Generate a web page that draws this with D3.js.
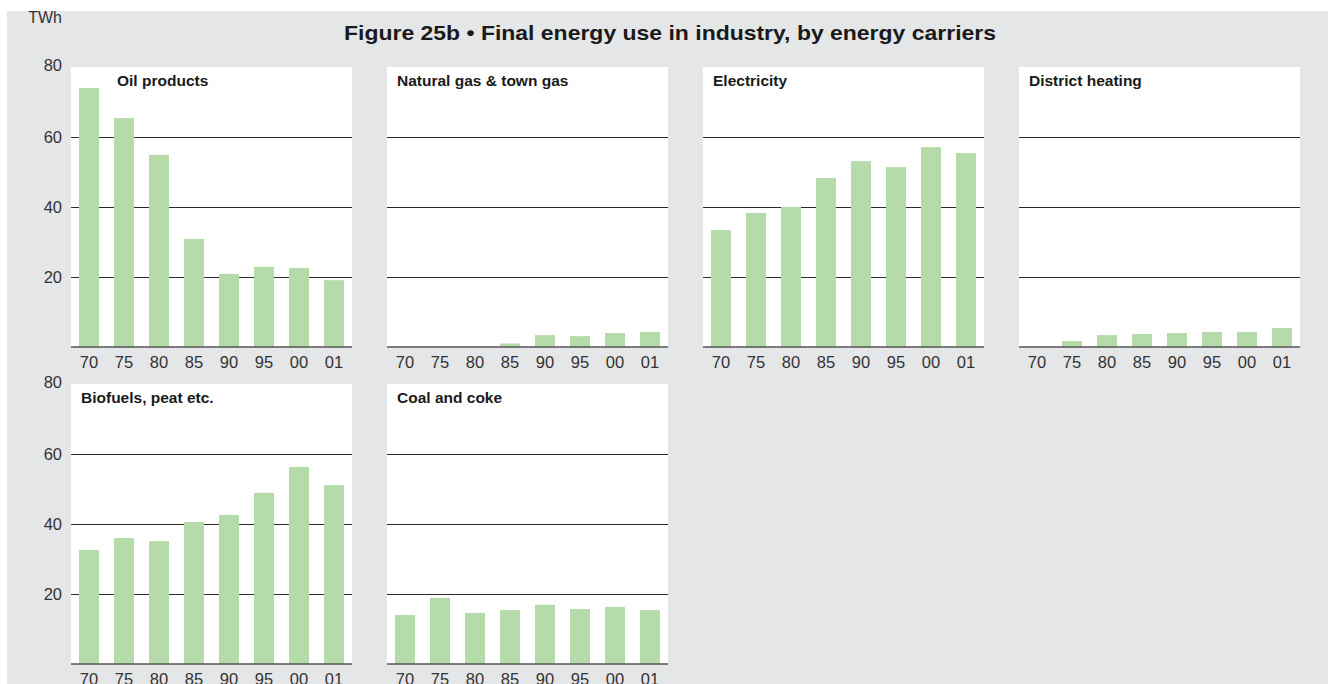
<!DOCTYPE html>
<html>
<head>
<meta charset="utf-8">
<script src="https://cdn.jsdelivr.net/npm/d3@7"></script>
<style>
  html, body { margin: 0; padding: 0; background: #ffffff; }
  svg { display: block; }
</style>
</head>
<body>
<svg id="chart" width="1328" height="684"></svg>
<script>
// ---- data ----
const years = ["70", "75", "80", "85", "90", "95", "00", "01"];
const panelNames = ["Oil products", "Natural gas & town gas", "Electricity", "District heating", "Biofuels, peat etc.", "Coal and coke"];
const oilProducts = [74.0, 65.4, 54.9, 30.9, 20.9, 22.9, 22.6, 19.1];
const naturalGas = [0, 0, 0, 1.0, 3.4, 3.1, 4.0, 4.3];
const electricity = [33.4, 38.3, 40.0, 48.3, 53.1, 51.4, 57.1, 55.4];
const districtHeating = [0, 1.7, 3.4, 3.7, 4.0, 4.3, 4.3, 5.4];
const biofuels = [32.6, 36.0, 35.1, 40.6, 42.6, 48.9, 56.3, 51.1];
const coalCoke = [14.0, 18.9, 14.6, 15.4, 16.9, 15.7, 16.3, 15.4];
const yTicks = [20, 40, 60, 80];
const unitLabel = "TWh";
const titleText = "Figure 25b \u2022 Final energy use in industry, by energy carriers";

const seriesList = [oilProducts, naturalGas, electricity, districtHeating, biofuels, coalCoke];

// ---- layout ----
const svg = d3.select("#chart");
const W = 1328, H = 684;
const panelW = 281, panelH = 280;
const colX = [71, 387, 703, 1019];
const rowY = [67, 384];
const barColor = "#b4dba9";
const bg = "#e5e6e8";
const font = "'Liberation Sans', Arial, Helvetica, sans-serif";

svg.append("rect").attr("x", 7).attr("y", 11).attr("width", W - 7).attr("height", H - 11).attr("fill", bg);

const title = svg.append("text")
  .attr("x", 670).attr("y", 40)
  .attr("text-anchor", "middle")
  .attr("font-family", font).attr("font-weight", "bold")
  .attr("font-size", 20.5).attr("fill", "#1a1a1a")
  .attr("textLength", 652).attr("lengthAdjust", "spacingAndGlyphs")
  .text(titleText);

svg.append("text")
  .attr("x", 62).attr("y", 23)
  .attr("text-anchor", "end")
  .attr("font-family", font).attr("font-size", 16)
  .attr("fill", "#333").text(unitLabel);

const y = d3.scaleLinear().domain([0, 80]).range([panelH, 0]);
const x = d3.scaleBand().domain(years).range([0, panelW]).paddingInner(0.4286).paddingOuter(0.2286);

seriesList.forEach((vals, i) => {
  const row = Math.floor(i / 4), col = i % 4;
  const g = svg.append("g").attr("transform", `translate(${colX[col]},${rowY[row]})`);
  g.append("rect").attr("width", panelW).attr("height", panelH).attr("fill", "#ffffff");

  // gridlines
  g.selectAll("line.grid").data(yTicks.filter(t => t < 80)).enter().append("line")
    .attr("x1", 0).attr("x2", panelW)
    .attr("y1", d => Math.round(y(d)) + 0.5).attr("y2", d => Math.round(y(d)) + 0.5)
    .attr("stroke", "#2b2b2b").attr("stroke-width", 1.1);

  // bars
  g.selectAll("rect.bar").data(vals.map((v, k) => ({ v, yr: years[k] }))).enter().append("rect")
    .attr("x", d => x(d.yr)).attr("width", x.bandwidth())
    .attr("y", d => y(d.v)).attr("height", d => panelH - y(d.v))
    .attr("fill", barColor);

  // baseline
  g.append("line").attr("x1", 0).attr("x2", panelW)
    .attr("y1", panelH).attr("y2", panelH)
    .attr("stroke", "#555").attr("stroke-width", 1.6);

  // x tick labels
  const xAxis = d3.axisBottom(x).tickSize(0).tickPadding(0);
  const ax = g.append("g").attr("transform", `translate(0,${panelH})`).call(xAxis);
  ax.select(".domain").remove();
  ax.selectAll("text").attr("y", 21).attr("dy", 0)
    .attr("font-family", font).attr("font-size", 16.5).attr("fill", "#333");

  // y tick labels (first column only)
  if (col === 0) {
    const yAxis = d3.axisLeft(y).tickValues(yTicks).tickSize(0).tickPadding(0);
    const ay = g.append("g").attr("transform", "translate(-9,0)").call(yAxis);
    ay.select(".domain").remove();
    ay.selectAll("text").attr("dy", "0.32em")
      .attr("font-family", font).attr("font-size", 16.5).attr("fill", "#333");
    ay.selectAll(".tick").filter(d => d === 80).select("text").attr("dy", "0.22em");
  }

  // panel title
  const tx = (i === 0) ? 46 : 10;
  g.append("text").attr("x", tx).attr("y", 19)
    .attr("font-family", font).attr("font-weight", "bold")
    .attr("font-size", 15.5).attr("fill", "#1a1a1a")
    .text(panelNames[i]);
});
</script>
</body>
</html>
